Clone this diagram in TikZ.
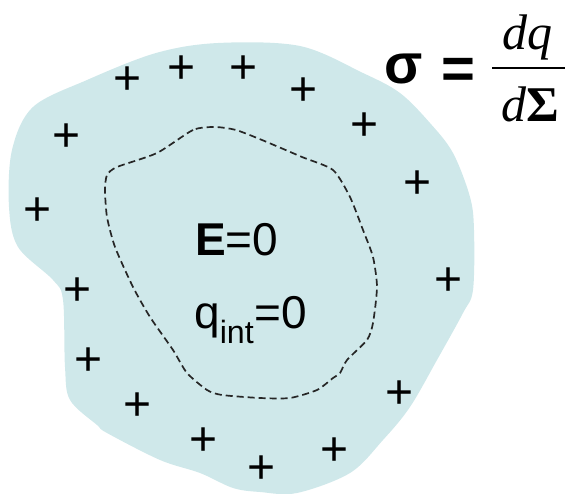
\documentclass[tikz,border=0pt]{standalone}
\usepackage{fontspec}
\setmainfont{Liberation Sans}
\newfontfamily\seriffont{Liberation Serif}
\usetikzlibrary{positioning}
\definecolor{bodyfill}{RGB}{207,232,234}

\begin{document}
\begin{tikzpicture}[x=1pt, y=-1pt,
  body/.style={fill=bodyfill, draw=none},
  gauss/.style={draw=black!85, line width=1.7pt, dash pattern=on 7pt off 4pt},
  charge/.style={font=\fontsize{48}{48}\selectfont, inner sep=0pt},
  lbl/.style={font=\fontsize{46}{46}\selectfont, inner sep=0pt},
  frc/.style={font=\fontsize{50}{50}\selectfont\seriffont\itshape, inner sep=0pt},
  fracrule/.style={line width=2pt}
]
\useasboundingbox (0,0) rectangle (568,494);
% --- conductor -----------------------------------------------------------
\fill[body] plot[smooth cycle, tension=0.55] coordinates {
  (87,80) (156,53) (218,43) (300,46) (363,73) (400,93) (430,123)
  (453,153) (470,197) (474,230) (473,290) (463,313) (437,360) (410,407)
  (383,440) (350,473) (297,493) (260,492) (233,488) (200,473) (160,460)
  (107,433) (97,425) (70,400) (65,367) (63,300) (53,280) (18,247) (9,207)
  (12,150) (33,107)};

% --- gaussian surface ----------------------------------------------------
\draw[gauss] plot[smooth cycle, tension=0.4] coordinates {
  (215,127) (193,130) (157,153) (117,167) (107,175) (105,190) (107,217)
  (115,247) (133,287) (150,317) (173,350) (187,373) (207,390) (222,395)
  (260,398) (290,398) (317,390) (333,378) (340,373) (347,360) (367,340)
  (373,323) (377,287) (373,257) (363,230) (350,197) (333,170) (302,157)
  (262,140) (236,130)};

% --- surface charges -----------------------------------------------------
\foreach \x/\y [count=\i] in {128/81, 182/70, 244/70, 304/92, 365/127,
    418/185, 449/282, 400/395, 335/452, 262/470, 204/442, 138/407,
    89/362, 78/292, 38/212, 67/138}
  \node[charge] (p\i) at (\x,\y) {+};

% --- inside the conductor ------------------------------------------------
\node[lbl, anchor=base west] (efield) at (195,256) {\textbf{E}=0};
\node[lbl, anchor=base west] (qint)   at (194,329) {q\textsubscript{int}=0};

% --- surface density -----------------------------------------------------
\node[lbl, anchor=base west, font=\fontsize{56}{56}\selectfont\bfseries] (sigma) at (384,84)
  {σ\hspace{19pt}\raisebox{-5pt}{\fontsize{58}{58}\selectfont =}};
\node[frc, anchor=base] (num) at (527,50)  {dq};
\node[frc, anchor=base] (den) at (530,122) {d\upshape\bfseries Σ};
\coordinate (rl) at (492,68);
\coordinate (rr) at (565,68);
\draw[fracrule] (rl) -- (rr);
\end{tikzpicture}
\end{document}
